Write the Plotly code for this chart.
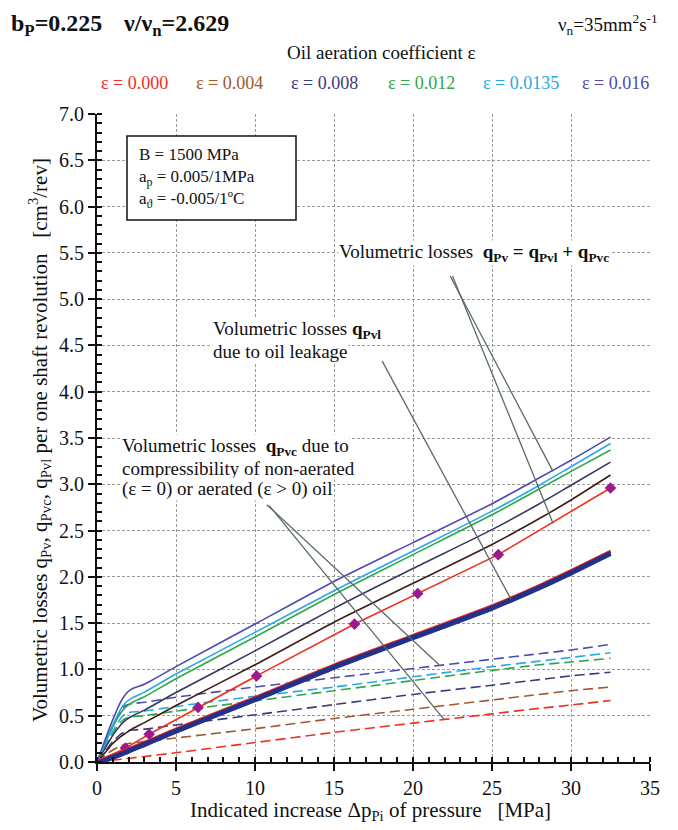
import plotly.graph_objects as go

# Indicated pressure increase Δp_Pi [MPa] at which the model curves are tabulated
dp = [0, 0.5, 1.0, 1.5, 1.8, 2.2, 3, 5, 10, 15, 20, 25, 28, 30, 32.5]

eps_labels = ["ε = 0.000", "ε = 0.004", "ε = 0.008", "ε = 0.012", "ε = 0.0135", "ε = 0.016"]

# Leakage losses q_Pvl [cm3/rev] (identical for every aeration level)
q_pvl = [0, 0.034, 0.068, 0.10, 0.12, 0.15, 0.205, 0.35, 0.69, 1.04, 1.36, 1.68, 1.90, 2.06, 2.27]

# Compressibility losses q_Pvc [cm3/rev], one list per aeration coefficient
q_pvc_000 = [0, 0.01, 0.02, 0.03, 0.036, 0.044, 0.06, 0.10, 0.21, 0.32, 0.42, 0.52, 0.58, 0.615, 0.665]
q_pvc_004 = [0, 0.07, 0.13, 0.175, 0.19, 0.205, 0.22, 0.26, 0.36, 0.47, 0.57, 0.67, 0.73, 0.77, 0.81]
q_pvc_008 = [0, 0.11, 0.22, 0.30, 0.33, 0.345, 0.355, 0.40, 0.51, 0.62, 0.73, 0.83, 0.89, 0.93, 0.97]
q_pvc_012 = [0, 0.16, 0.31, 0.43, 0.47, 0.49, 0.50, 0.55, 0.66, 0.77, 0.88, 0.99, 1.05, 1.08, 1.12]
q_pvc_0135 = [0, 0.17, 0.33, 0.47, 0.52, 0.54, 0.55, 0.60, 0.71, 0.81, 0.92, 1.03, 1.09, 1.13, 1.18]
q_pvc_016 = [0, 0.20, 0.39, 0.55, 0.61, 0.63, 0.645, 0.70, 0.81, 0.91, 1.01, 1.11, 1.17, 1.21, 1.27]

# Total volumetric losses q_Pv [cm3/rev] for aerated oil
q_pv_004 = [0, 0.10, 0.20, 0.275, 0.31, 0.355, 0.425, 0.61, 1.05, 1.51, 1.93, 2.35, 2.63, 2.83, 3.10]
q_pv_008 = [0, 0.144, 0.288, 0.40, 0.45, 0.495, 0.56, 0.75, 1.20, 1.66, 2.09, 2.51, 2.79, 2.99, 3.24]
q_pv_012 = [0, 0.194, 0.378, 0.53, 0.59, 0.64, 0.705, 0.90, 1.35, 1.81, 2.24, 2.67, 2.95, 3.14, 3.37]
q_pv_0135 = [0, 0.204, 0.398, 0.57, 0.64, 0.69, 0.755, 0.95, 1.40, 1.85, 2.28, 2.71, 2.99, 3.19, 3.44]
q_pv_016 = [0, 0.234, 0.458, 0.65, 0.73, 0.79, 0.84, 1.03, 1.49, 1.95, 2.37, 2.79, 3.07, 3.26, 3.51]

# Measured total losses for non-aerated oil (ε = 0)
dp_meas = [0, 1.8, 3.3, 6.4, 10.1, 16.3, 20.3, 25.4, 32.5]
q_pv_000 = [0, 0.15, 0.30, 0.59, 0.93, 1.49, 1.82, 2.24, 2.96]

# Leader lines of the callouts: (x0, y0, x1, y1) in data units
leader_lines = [
    (22.35, 5.25, 28.86, 3.14),
    (22.50, 5.25, 28.86, 2.58),
    (18.05, 4.33, 26.20, 1.76),
    (10.75, 2.78, 21.65, 1.05),
    (10.90, 2.77, 21.96, 0.46),
]

FONT = "Liberation Serif, Times New Roman, serif"
W, H = 678, 830
L, R, T, B = 97, 650, 114, 762  # plot area in pixels

eps_colors = ["#f0301e", "#a0582e", "#3c3a7c", "#2ea84a", "#2aa8e2", "#4a4cae"]
solid_colors = ["#f0301e", "#3e1e14", "#3a3660", "#2ea84a", "#2aa8e2", "#4a4cae"]


def px(x):
    return (x - L) / (R - L)


def py(y):
    return (B - y) / (B - T)


fig = go.Figure()

spline = dict(shape="spline", smoothing=0.6)

# compressibility losses (dashed)
pvc_sets = [q_pvc_000, q_pvc_004, q_pvc_008, q_pvc_012, q_pvc_0135, q_pvc_016]
for vals, col in zip(pvc_sets, eps_colors):
    fig.add_trace(go.Scatter(x=dp, y=vals, mode="lines",
                             line=dict(color=col, width=1.6, dash="10px,5px", **spline),
                             hoverinfo="skip", showlegend=False))

# leakage losses: one thick band of overlapping curves
fig.add_trace(go.Scatter(x=dp, y=q_pvl, mode="lines", yaxis="y3",
                         line=dict(color="#23308c", width=5, **spline),
                         hoverinfo="skip", showlegend=False))
fig.add_trace(go.Scatter(x=dp, y=q_pvl, mode="lines",
                         line=dict(color="#101018", width=2.8, **spline),
                         hoverinfo="skip", showlegend=False))
fig.add_trace(go.Scatter(x=dp, y=q_pvl, mode="lines", yaxis="y2",
                         line=dict(color="#e8281c", width=1.3, **spline),
                         hoverinfo="skip", showlegend=False))

# total losses (solid) for aerated oil
pv_sets = [q_pv_004, q_pv_008, q_pv_012, q_pv_0135, q_pv_016]
for vals, col in zip(pv_sets, solid_colors[1:]):
    fig.add_trace(go.Scatter(x=dp, y=vals, mode="lines",
                             line=dict(color=col, width=1.6, **spline),
                             hoverinfo="skip", showlegend=False))

# total losses for non-aerated oil with measured points
fig.add_trace(go.Scatter(x=dp_meas, y=q_pv_000, mode="lines",
                         line=dict(color=solid_colors[0], width=1.6),
                         hoverinfo="skip", showlegend=False))
fig.add_trace(go.Scatter(x=dp_meas[1:], y=q_pv_000[1:], mode="markers",
                         marker=dict(symbol="diamond", size=9, color="#9c1a8c"),
                         hoverinfo="skip", showlegend=False))

shapes = []
for x0, y0, x1, y1 in leader_lines:
    shapes.append(dict(type="line", xref="x", yref="y", x0=x0, y0=y0, x1=x1, y1=y1,
                       line=dict(color="#5c6a6a", width=1.3), layer="above"))

# parameter box
shapes.append(dict(type="rect", xref="paper", yref="paper",
                   x0=px(127), x1=px(296), y0=py(220), y1=py(136),
                   line=dict(color="#111", width=1.5), fillcolor="white", layer="above"))

ann = []


def text(x, y, s, size=16, color="#111", xanchor="left", yanchor="middle", bg=None, **kw):
    d = dict(xref="paper", yref="paper", x=px(x), y=py(y), text=s, showarrow=False,
             xanchor=xanchor, yanchor=yanchor, align="left",
             font=dict(family=FONT, size=size, color=color))
    if bg:
        d["bgcolor"] = bg
        d["borderpad"] = 0
    d.update(kw)
    ann.append(d)


NB = "\u00a0"
text(9, 25, "<b>b<sub>P</sub>=0.225</b>", size=24)
text(121, 25, "<b>ν/ν<sub>n</sub>=2.629</b>", size=24)
text(660, 25, "ν<sub>n</sub>=35mm<sup>2</sup>s<sup>-1</sup>", size=19, xanchor="right")
text(381, 53, "Oil aeration coefficient ε", size=19, xanchor="center")
legend_x = [134, 229, 324, 421, 521, 615]
for lx, lab, col in zip(legend_x, eps_labels, eps_colors):
    text(lx, 83, lab, size=18, color=col, xanchor="center")

text(137, 178, "B = 1500 MPa<br>a<sub>p</sub> = 0.005/1MPa<br>a<sub>ϑ</sub> = -0.005/1ºC", size=17)

text(338, 253, f"Volumetric losses{NB*2}<b>q<sub>Pv</sub> = q<sub>Pvl</sub> + q<sub>Pvc</sub></b>",
     size=19, bg="white")
text(212, 330, "Volumetric losses <b>q<sub>Pvl</sub></b>", size=19, bg="white")
text(212, 351, "due to oil leakage", size=19, bg="white")
text(121, 447, f"Volumetric losses{NB*2}<b>q<sub>Pvc</sub></b> due to", size=19, bg="white")
text(121, 468, f"compressibility{NB}of{NB}non-aerated", size=19, bg="white")
text(121, 489, "(ε = 0) or aerated (ε > 0) oil", size=19, bg="white")

# axis titles
text(370, 811, f"Indicated increase Δp<sub>Pi</sub> of pressure{NB*3}[MPa]", size=21, xanchor="center")
ann.append(dict(xref="paper", yref="paper", x=px(39), y=py(440), showarrow=False,
                text=(f"Volumetric losses q<sub>Pv</sub>,{NB}q<sub>Pvc</sub>,{NB}q<sub>Pvl</sub>{NB}"
                      f"per one shaft revolution{NB*3}[cm<sup>3</sup>/rev]"),
                textangle=-90, xanchor="center", yanchor="middle",
                font=dict(family=FONT, size=21, color="#111")))

grid = dict(showgrid=True, gridcolor="#9a9a9a", gridwidth=1, griddash="3px,2px")
axis_common = dict(showline=True, linecolor="#111", linewidth=2, ticks="outside",
                   ticklen=7, tickwidth=1.5, tickcolor="#111", zeroline=False,
                   tickfont=dict(family=FONT, size=20, color="#111"), **grid)

shift = 1.6 / ((B - T) / 7.0)

fig.update_layout(
    width=W, height=H,
    margin=dict(l=L, r=W - R, t=T, b=H - B),
    paper_bgcolor="white", plot_bgcolor="white",
    font=dict(family=FONT),
    xaxis=dict(range=[0, 35], tick0=0, dtick=5,
               minor=dict(dtick=1, ticks="inside", ticklen=5, tickcolor="#111", showgrid=False),
               **axis_common),
    yaxis=dict(range=[0, 7], tick0=0, dtick=0.5, tickformat=".1f",
               minor=dict(dtick=0.1, ticks="inside", ticklen=5, tickcolor="#111", showgrid=False),
               **axis_common),
    yaxis2=dict(overlaying="y", range=[-shift, 7 - shift], visible=False),
    yaxis3=dict(overlaying="y", range=[shift, 7 + shift], visible=False),
    shapes=shapes,
    annotations=ann,
    showlegend=False,
)

fig.write_html("out.html")
